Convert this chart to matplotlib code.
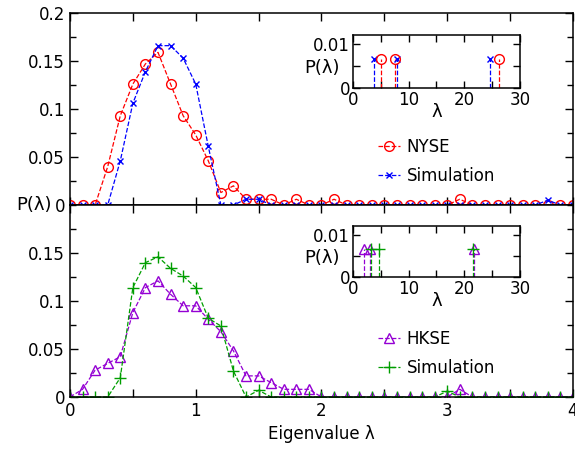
import numpy as np
import matplotlib
matplotlib.use('Agg')
from matplotlib import pyplot as plt
from matplotlib.ticker import MultipleLocator, FormatStrFormatter, FuncFormatter

# eigenvalue grid (bin centres)
lam = [round(0.1 * i, 1) for i in range(41)]

nyse = [0, 0, 0, 0.040, 0.093, 0.126, 0.147, 0.159, 0.126, 0.093,
        0.073, 0.046, 0.013, 0.020, 0.006, 0.006, 0.006, 0, 0.006, 0,
        0, 0.006, 0, 0, 0, 0, 0, 0, 0, 0,
        0, 0.006, 0, 0, 0, 0, 0, 0, 0, 0, 0]
nyse_sim = [0, 0, 0, 0, 0.046, 0.106, 0.139, 0.166, 0.166, 0.153,
            0.126, 0.061, 0, 0, 0.006, 0.006, 0, 0, 0, 0,
            0, 0, 0, 0, 0, 0, 0, 0, 0, 0,
            0, 0, 0, 0, 0, 0, 0, 0, 0.005, 0, 0]
hkse = [0, 0.008, 0.028, 0.035, 0.042, 0.088, 0.114, 0.121, 0.107, 0.095,
        0.095, 0.081, 0.068, 0.048, 0.022, 0.022, 0.015, 0.008, 0.008, 0.008,
        0, 0, 0, 0, 0, 0, 0, 0, 0, 0,
        0, 0.008, 0, 0, 0, 0, 0, 0, 0, 0, 0]
hkse_sim = [0, 0, 0, 0, 0.020, 0.114, 0.140, 0.146, 0.134, 0.126,
            0.114, 0.082, 0.074, 0.027, 0, 0.007, 0, 0, 0, 0,
            0, 0, 0, 0, 0, 0, 0, 0, 0, 0,
            0.006, 0, 0, 0, 0, 0, 0, 0, 0, 0, 0]

# large eigenvalues shown in the insets
nyse_big = [5.0, 7.5, 26.2]
nyse_sim_big = [3.7, 7.9, 24.7]
hkse_big = [1.9, 3.1, 21.7]
hkse_sim_big = [3.2, 4.7, 21.5]
big_p = 0.0065

red = '#ff0000'
blue = '#0000ff'
purple = '#9400d3'
green = '#009e00'

plt.rcParams['font.family'] = 'DejaVu Sans'
plt.rcParams['font.size'] = 12

fig = plt.figure(figsize=(5.75, 4.49), dpi=100)
ax1 = fig.add_axes([0.1217, 0.5434, 0.8748, 0.4276])
ax2 = fig.add_axes([0.1217, 0.1158, 0.8748, 0.4276])

fmt = FuncFormatter(lambda v, p: '%g' % round(v, 4))

def style_main(ax):
    ax.set_xlim(0, 4)
    ax.set_ylim(0, 0.2)
    ax.xaxis.set_major_locator(MultipleLocator(1))
    ax.xaxis.set_minor_locator(MultipleLocator(0.5))
    ax.yaxis.set_major_locator(MultipleLocator(0.05))
    ax.yaxis.set_minor_locator(MultipleLocator(0.025))
    ax.yaxis.set_major_formatter(fmt)
    ax.xaxis.set_major_formatter(fmt)
    ax.tick_params(which='both', direction='in', top=True, right=True, labelsize=12)
    ax.tick_params(which='major', length=6, width=1)
    ax.tick_params(which='minor', length=4, width=1)
    ax.tick_params(axis='x', which='minor', length=6)
    for s in ax.spines.values():
        s.set_linewidth(1.1)

style_main(ax1)
style_main(ax2)
ax1.tick_params(axis='x', labelbottom=False)
ax2.set_yticks([0, 0.05, 0.1, 0.15])

ax1.plot(lam, nyse, '--', color=red, lw=0.9, marker='o', ms=7, mfc='none', mew=1, label='NYSE')
ax1.plot(lam, nyse_sim, '--', color=blue, lw=0.9, marker='x', ms=5, mew=1, label='Simulation')
ax2.plot(lam, hkse, '--', color=purple, lw=0.9, marker='^', ms=7, mfc='none', mew=1, label='HKSE')
ax2.plot(lam, hkse_sim, '--', color=green, lw=0.9, marker='+', ms=8, mew=1, label='Simulation')

for ax in (ax1, ax2):
    ax.legend(loc='upper left', bbox_to_anchor=(0.613, 0.35), frameon=False,
              fontsize=12, handlelength=1.3, handletextpad=0.4,
              labelspacing=0.68, borderpad=0, borderaxespad=0)

ax2.set_xlabel('Eigenvalue λ', fontsize=12, labelpad=4)
fig.text(34 / 575, 1 - 205 / 449, 'P(λ)', fontsize=13, ha='center', va='center')

# insets
in1 = fig.add_axes([0.6139, 1 - 88 / 449, 0.2904, 53 / 449])
in2 = fig.add_axes([0.6139, 1 - 277 / 449, 0.2904, 51 / 449])

in1.vlines(nyse_sim_big, 0, big_p, colors=blue, linestyles='--', lw=0.9)
in1.vlines(nyse_big, 0, big_p, colors=red, linestyles='--', lw=0.9)
in1.plot(nyse_sim_big, [big_p] * 3, ls='none', marker='x', ms=5, color=blue, mew=1)
in1.plot(nyse_big, [big_p] * 3, ls='none', marker='o', ms=7, mfc='none', color=red, mew=1)

in2.vlines(hkse_big, 0, big_p, colors=purple, linestyles='--', lw=0.9)
in2.vlines(hkse_sim_big, 0, big_p, colors=green, linestyles='--', lw=0.9)
in2.plot(hkse_big, [big_p] * 3, ls='none', marker='^', ms=7, mfc='none', color=purple, mew=1)
in2.plot(hkse_sim_big, [big_p] * 3, ls='none', marker='+', ms=8, color=green, mew=1)

for ax in (in1, in2):
    ax.set_xlim(0, 30)
    ax.set_ylim(0, 0.012)
    ax.xaxis.set_major_locator(MultipleLocator(10))
    ax.xaxis.set_minor_locator(MultipleLocator(5))
    ax.set_yticks([0, 0.01])
    ax.yaxis.set_minor_locator(MultipleLocator(0.005))
    ax.yaxis.set_major_formatter(fmt)
    ax.tick_params(which='both', direction='in', top=True, right=True, labelsize=12, pad=2)
    ax.tick_params(which='both', length=5, width=1)
    ax.set_xlabel('λ', fontsize=13, labelpad=-4)
    ax.set_ylabel('P(λ)', fontsize=13, rotation=0, ha='right', va='center')
    ax.yaxis.set_label_coords(-0.08, 0.38)
    for s in ax.spines.values():
        s.set_linewidth(1.1)

fig.savefig('out.png', dpi=100)
